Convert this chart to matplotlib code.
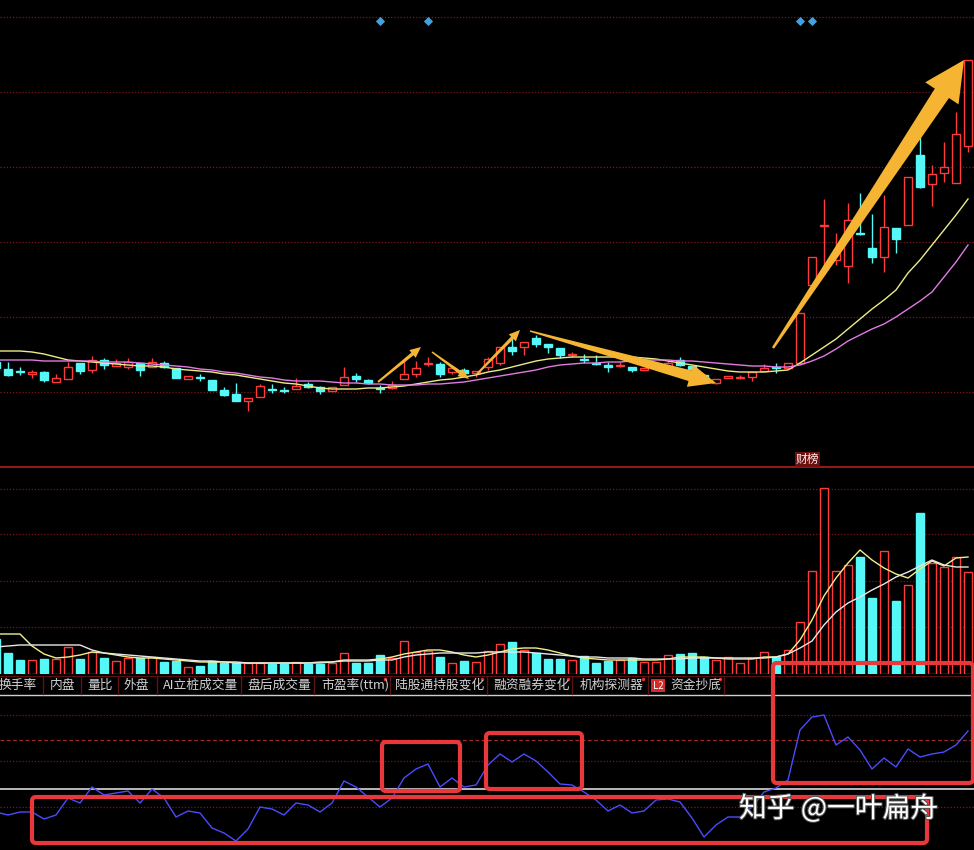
import matplotlib
matplotlib.use('Agg')
import matplotlib.pyplot as plt
import numpy as np
from matplotlib.patches import Polygon, FancyBboxPatch, Rectangle
import matplotlib.patheffects as pe

plt.rcParams['font.family'] = ['Noto Sans CJK SC', 'DejaVu Sans']

# ---------------- data ----------------
opens = [10.5, 9.8, 9.6, 9.3, 9.5, 8.5, 8.8, 10.4, 9.7, 10.7,
         10.1, 10.0, 10.4, 10.0, 10.4, 9.9, 8.8, 9.0, 8.7, 7.7,
         7.3, 6.6, 7.0, 7.8, 7.7, 7.8, 8.3, 8.0, 7.6, 8.2,
         9.1, 8.7, 7.9, 7.9, 8.8, 9.3, 10.35, 10.3, 9.5, 9.7,
         9.4, 10.0, 10.4, 12.0, 12.0, 12.9, 12.3, 11.9, 11.25, 10.8,
         10.4, 10.2, 10.15, 10.0, 9.7, 9.9, 10.1, 10.7, 10.1, 9.2,
         8.4, 8.9, 8.95, 9.0, 9.6, 10.0, 9.9, 10.4, 18.2, 24.15,
         20.7, 20.1, 23.4, 21.9, 21.0, 23.9, 24.2, 31.2, 28.3, 29.4,
         28.4, 32.1]
highs = [10.7, 10.5, 10.0, 9.7, 9.6, 9.3, 10.5, 10.4, 11.1, 10.9,
         10.8, 10.9, 10.4, 10.9, 10.6, 9.9, 9.1, 9.3, 8.7, 8.0,
         8.4, 6.9, 8.3, 8.3, 8.0, 8.9, 8.5, 8.1, 8.0, 10.0,
         9.4, 8.8, 8.2, 8.6, 10.7, 10.6, 11.0, 10.5, 9.9, 9.9,
         9.6, 11.0, 12.0, 12.9, 12.5, 13.2, 12.3, 11.9, 11.5, 11.3,
         11.2, 10.5, 10.5, 10.0, 9.9, 10.4, 10.6, 11.0, 10.1, 9.3,
         8.8, 9.1, 9.2, 9.5, 10.3, 10.4, 10.4, 15.4, 21.0, 26.8,
         23.4, 26.4, 27.4, 25.3, 27.2, 23.9, 29.0, 33.0, 30.2, 32.5,
         35.5, 40.7]
lows = [9.7, 9.1, 9.2, 8.9, 8.5, 8.5, 8.8, 9.3, 9.4, 9.8,
        10.1, 9.8, 9.1, 10.0, 9.9, 8.9, 8.8, 8.6, 7.7, 7.1,
        6.6, 5.6, 7.0, 7.4, 7.4, 7.8, 7.9, 7.3, 7.6, 8.2,
        8.5, 8.3, 7.4, 7.8, 8.8, 9.0, 10.1, 9.0, 9.3, 9.3,
        9.0, 9.7, 10.2, 11.2, 11.2, 12.0, 11.4, 10.9, 11.0, 10.4,
        10.2, 9.5, 10.0, 9.5, 9.7, 9.8, 10.0, 10.1, 9.7, 8.7,
        8.3, 8.9, 8.8, 8.6, 9.6, 9.4, 9.9, 10.3, 18.2, 20.0,
        20.2, 18.4, 23.2, 20.4, 19.5, 21.4, 24.2, 27.9, 26.1, 28.5,
        28.4, 31.5]
closes = [9.9, 9.2, 9.55, 9.5, 8.7, 8.9, 10.0, 9.6, 10.7, 10.2,
          10.4, 10.5, 9.7, 10.5, 10.0, 8.9, 9.1, 8.95, 7.7, 7.2,
          6.6, 6.9, 8.1, 7.75, 7.65, 8.1, 8.0, 7.6, 8.0, 9.0,
          8.8, 8.4, 7.85, 8.2, 9.3, 9.9, 10.4, 9.3, 9.9, 9.4,
          9.6, 10.8, 12.0, 11.6, 12.5, 12.3, 12.0, 11.2, 11.3, 10.75,
          10.35, 10.0, 10.2, 9.7, 9.9, 10.2, 10.4, 10.2, 9.8, 8.8,
          8.8, 9.1, 9.0, 9.5, 9.9, 9.95, 10.4, 15.4, 21.0, 24.2,
          21.4, 24.7, 23.35, 21.0, 24.0, 22.8, 29.0, 28.0, 29.3, 30.0,
          33.3, 40.7]
ma_short = [11.6, 11.6, 11.6, 11.5, 11.3, 11.0, 10.7, 10.6, 10.5, 10.4,
            10.3, 10.2, 10.1, 10.1, 10.0, 9.8, 9.7, 9.6, 9.5, 9.3,
            9.2, 9.0, 8.8, 8.6, 8.4, 8.3, 8.1, 7.9, 7.8, 7.8,
            7.8, 7.9, 7.9, 8.0, 8.1, 8.3, 8.5, 8.7, 8.8, 9.0,
            9.2, 9.5, 9.7, 10.0, 10.3, 10.6, 10.8, 10.9, 11.0, 11.0,
            11.0, 11.0, 11.0, 11.0, 10.9, 10.8, 10.6, 10.4, 10.2, 10.0,
            9.8, 9.6, 9.5, 9.5, 9.5, 9.6, 9.7, 10.4, 11.2, 12.0,
            12.8, 13.8, 14.8, 15.8, 16.7, 17.7, 19.4, 20.7, 22.2, 23.7,
            25.2, 26.8]
ma_long = [10.7, 10.7, 10.7, 10.7, 10.6, 10.6, 10.6, 10.6, 10.6, 10.5,
           10.5, 10.5, 10.4, 10.3, 10.2, 10.1, 10.0, 9.8, 9.7, 9.5,
           9.4, 9.2, 9.0, 8.9, 8.7, 8.6, 8.6, 8.6, 8.5, 8.4,
           8.4, 8.3, 8.3, 8.2, 8.2, 8.2, 8.3, 8.3, 8.4, 8.5,
           8.7, 8.9, 9.1, 9.3, 9.5, 9.7, 10.0, 10.2, 10.3, 10.4,
           10.4, 10.5, 10.5, 10.6, 10.7, 10.7, 10.7, 10.6, 10.6, 10.5,
           10.4, 10.3, 10.2, 10.1, 10.1, 10.0, 10.0, 10.2, 10.6, 11.1,
           11.8, 12.6, 13.2, 13.8, 14.3, 15.0, 15.8, 16.6, 17.5, 19.0,
           20.5, 22.2]
volumes = [35, 21, 14, 14, 15, 15, 27, 15, 22, 16,
           13, 16, 16, 17, 12, 13, 7, 8, 13, 11,
           11, 11, 11, 10, 10, 12, 10, 10, 11, 21,
           11, 11, 19, 16, 33, 22, 23, 17, 11, 13,
           12, 23, 30, 32, 24, 21, 15, 15, 14, 18,
           11, 13, 14, 16, 12, 12, 19, 20, 21, 17,
           14, 17, 11, 16, 22, 17, 24, 52, 103, 186,
           103, 109, 117, 76, 123, 73, 89, 161, 111, 107,
           117, 102]
vol_ma_short = [40, 40, 40, 28, 20, 16, 17, 19, 22, 21,
                19, 17, 16, 16, 15, 14, 13, 12, 12, 12,
                11, 11, 11, 11, 11, 11, 11, 11, 12, 14,
                14, 14, 15, 17, 20, 22, 24, 24, 22, 19,
                17, 19, 22, 25, 26, 26, 24, 21, 18, 16,
                15, 14, 14, 14, 14, 14, 15, 17, 17, 17,
                16, 15, 15, 15, 17, 17, 20, 34, 54, 78,
                96, 111, 124, 114, 106, 100, 96, 105, 113, 108,
                116, 117]
vol_ma_long = [27, 28, 29, 29, 29, 29, 29, 29, 24, 21,
               20, 19, 18, 17, 16, 15, 14, 13, 13, 12,
               12, 11, 11, 11, 11, 11, 11, 12, 12, 13,
               13, 13, 14, 14, 17, 19, 20, 21, 21, 21,
               21, 22, 22, 22, 22, 21, 20, 19, 18, 17,
               17, 16, 16, 16, 15, 15, 15, 15, 16, 16,
               16, 16, 16, 16, 16, 17, 20, 26, 33, 49,
               62, 71, 77, 84, 90, 97, 102, 108, 114, 109,
               107, 107]
indicator = [38, 35, 38, 38, 31, 35, 52, 47, 63, 55,
             57, 59, 47, 61, 52, 33, 39, 37, 22, 17,
             9, 21, 43, 41, 35, 47, 45, 38, 47, 69,
             63, 53, 43, 52, 72, 81, 86, 63, 72, 63,
             65, 85, 96, 88, 96, 89, 78, 66, 65, 58,
             50, 39, 45, 37, 39, 50, 51, 48, 32, 13,
             25, 33, 33, 43, 58, 62, 70, 120, 133, 135,
             105, 113, 100, 81, 92, 83, 101, 93, 96, 98,
             105, 119]
signal_idx = [32, 36, 67, 68]
tab_labels = ["换手率", "内盘", "量比", "外盘", "AI立桩成交量", "盘后成交量",
              "市盈率(ttm)", "陆股通持股变化", "融资融券变化", "机构探测器", "资金抄底"]

# ---------------- figure ----------------
W, H = 974, 850
fig = plt.figure(figsize=(W / 100, H / 100), dpi=100, facecolor='black')

RED = '#ff3a3a'
CYAN = '#55f7f7'
GRID = '#7a1818'


def panel(top, bottom):
    ax = fig.add_axes([0, 1 - bottom / H, 1, (bottom - top) / H])
    ax.set_facecolor('black')
    ax.set_xlim(4 / 12, 978 / 12)
    ax.axis('off')
    return ax


xs = np.arange(len(opens))
o = np.array(opens); c = np.array(closes)
hi = np.array(highs); lo = np.array(lows)
up = c >= o
cols = np.where(up, RED, CYAN)
fills = np.where(up, 'black', CYAN)

# price panel
ax_p = panel(0, 467)
ax_p.set_ylim(0, 46.7)
for gy in [7.5, 15, 22.5, 30, 37.5, 45]:
    ax_p.axhline(gy, color=GRID, lw=0.9, ls=(0, (1, 1.5)), zorder=0)
ax_p.vlines(xs, lo, hi, colors=cols, lw=1, zorder=1.5)
body_b = np.minimum(o, c)
body_h = np.maximum(np.abs(c - o), 0.03)
ax_p.bar(xs, body_h, bottom=body_b, width=0.72, color=fills, edgecolor=cols,
         linewidth=1, zorder=2)
ax_p.plot(xs, ma_short, color='#ecec86', lw=1, zorder=3)
ax_p.plot(xs, ma_long, color='#e07ce0', lw=1, zorder=3)
ax_p.scatter(signal_idx, [44.6] * len(signal_idx), marker='D', s=22,
             color='#3fa2e2', zorder=4, linewidths=0)

# volume panel
ax_v = panel(467, 674)
ax_v.set_ylim(0, 207)
for gy in [47, 93, 140, 185]:
    ax_v.axhline(gy, color=GRID, lw=0.9, ls=(0, (1, 1.5)), zorder=0)
ax_v.bar(xs, volumes, width=0.72, color=fills, edgecolor=cols, linewidth=1, zorder=2)
ax_v.plot(xs, vol_ma_short, color='#f2f08a', lw=1, zorder=3)
ax_v.plot(xs, vol_ma_long, color='#e8e8e8', lw=1, zorder=3)

# indicator panel
ax_i = panel(695, 850)
ax_i.set_ylim(0, 155)
for gy in [135, 89, 43]:
    ax_i.axhline(gy, color=GRID, lw=0.9, ls=(0, (1, 1.5)), zorder=0)
ax_i.axhline(110, color='#a02828', lw=0.9, ls=(0, (3, 2)), zorder=0)
ax_i.axhline(61, color='#d8d8d8', lw=1.2, zorder=1)
ax_i.plot(xs, indicator, color='#4b4bff', lw=1, zorder=3)

# ---------------- overlay (pixel coordinates) ----------------
ax_o = fig.add_axes([0, 0, 1, 1], zorder=10)
ax_o.set_xlim(0, W)
ax_o.set_ylim(H, 0)
ax_o.axis('off')
ax_o.patch.set_alpha(0)

ax_o.plot([0, W], [467, 467], color='#b51e1e', lw=1.2)
ax_o.plot([0, W], [675.5, 675.5], color='#5a1010', lw=0.8)
ax_o.plot([0, W], [694.5, 694.5], color='#cfcfcf', lw=1)

# tab bar
tab_x = [-1, 50, 87, 124, 163, 247, 321, 395, 493, 580, 670]
for tx, lab in zip(tab_x, tab_labels):
    ax_o.text(tx, 685, lab, color='#d2d2d2', fontsize=9.2, ha='left', va='center')
for sx in [43, 81, 118, 157, 241, 314, 390, 487, 572, 648, 724]:
    ax_o.plot([sx, sx], [677, 694], color='#5a1414', lw=1)
for dx in [385, 482, 568, 643, 720]:
    ax_o.plot(dx, 678.5, marker='o', ms=2.5, color='#e03030', mec='none')
ax_o.add_patch(Rectangle((651, 679), 14, 13, fc='#d42a2a', ec='none'))
ax_o.text(658, 685.8, 'L2', color='white', fontsize=7, ha='center', va='center')

# 财榜 label
ax_o.text(807.5, 459.5, '财榜', color='#ffe8e8', fontsize=8.5, ha='center', va='center',
          bbox=dict(fc='#6e1010', ec='none', pad=0.6))


def tapered_arrow(x0, y0, x1, y1, w0, w1, head_w, head_l, color='#f5b533'):
    p0 = np.array([x0, y0], float)
    p1 = np.array([x1, y1], float)
    d = p1 - p0
    u = d / np.hypot(*d)
    n = np.array([-u[1], u[0]])
    hb = p1 - u * head_l
    pts = [p0 + n * w0 / 2, hb + n * w1 / 2, hb + n * head_w / 2, p1,
           hb - n * head_w / 2, hb - n * w1 / 2, p0 - n * w0 / 2]
    ax_o.add_patch(Polygon(pts, closed=True, fc=color, ec='none', zorder=5))


tapered_arrow(378, 382, 421, 347, 2.0, 3.5, 10, 11)
tapered_arrow(432, 352, 469, 379, 1.5, 3.5, 9, 11)
tapered_arrow(477, 374, 520, 330, 2.0, 3.5, 10, 11)
tapered_arrow(530, 331, 716, 383, 1.5, 11, 23, 27)
tapered_arrow(773, 348, 964, 60, 2.5, 17, 40, 40)

# red boxes
for (x0, y0, x1, y1) in [(32, 797, 927, 843), (382, 742, 460, 791),
                         (486, 733, 582, 789), (773, 663, 973, 783)]:
    ax_o.add_patch(FancyBboxPatch((x0, y0), x1 - x0, y1 - y0,
                                  boxstyle='round,pad=0,rounding_size=4',
                                  fc='none', ec='#e8383c', lw=3, zorder=6))

# watermark
ax_o.text(739, 809, '知乎 @一叶扁舟', color='white', fontsize=20, ha='left', va='center',
          zorder=7, path_effects=[pe.withStroke(linewidth=1.5, foreground='#555555')])

fig.savefig('out.png', dpi=100, facecolor='black')
